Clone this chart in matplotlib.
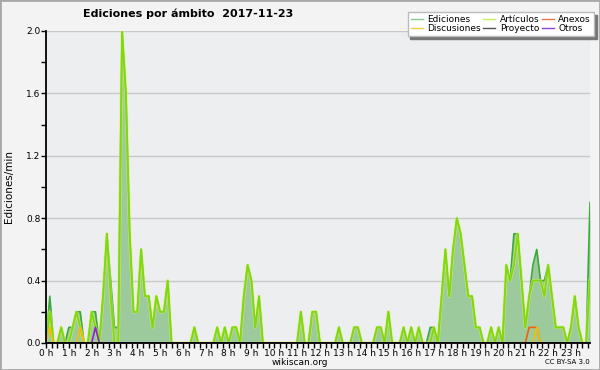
import matplotlib
matplotlib.use("Agg")
import matplotlib.pyplot as plt
from matplotlib.lines import Line2D
from matplotlib.patches import Rectangle
from matplotlib.ticker import MultipleLocator
import numpy as np

# edits per minute, one value per 10-minute slot (0:00 .. 23:50), two hours per row
ediciones = [
    0, 0.3, 0, 0, 0.1, 0,      0.1, 0.1, 0.2, 0.2, 0, 0,
    0.2, 0.2, 0, 0.3, 0.7, 0.4,  0.1, 0.1, 2.0, 1.6, 0.7, 0.2,
    0.2, 0.6, 0.3, 0.3, 0.1, 0.3,  0.2, 0.2, 0.4, 0, 0, 0,
    0, 0, 0, 0.1, 0, 0,        0, 0, 0, 0.1, 0, 0.1,
    0, 0.1, 0.1, 0, 0.3, 0.5,  0.4, 0.1, 0.3, 0, 0, 0,
    0, 0, 0, 0, 0, 0,          0, 0.2, 0, 0, 0.2, 0.2,
    0, 0, 0, 0, 0, 0.1,        0, 0, 0, 0.1, 0.1, 0,
    0, 0, 0, 0.1, 0.1, 0,      0.2, 0, 0, 0, 0.1, 0,
    0.1, 0, 0.1, 0, 0, 0.1,    0.1, 0, 0.3, 0.6, 0.3, 0.6,
    0.8, 0.7, 0.5, 0.3, 0.3, 0.1,  0.1, 0, 0, 0.1, 0, 0.1,
    0, 0.5, 0.4, 0.7, 0.7, 0.4,  0.1, 0.3, 0.5, 0.6, 0.4, 0.4,
    0.5, 0.3, 0.1, 0.1, 0.1, 0,  0.1, 0.3, 0.1, 0, 0, 0.9,
]
articulos = [
    0, 0.2, 0, 0, 0.1, 0,      0, 0.1, 0.2, 0.1, 0, 0,
    0.2, 0.1, 0, 0.3, 0.7, 0.3,  0, 0, 2.0, 1.6, 0.7, 0.2,
    0.2, 0.6, 0.3, 0.3, 0.1, 0.3,  0.2, 0.2, 0.4, 0, 0, 0,
    0, 0, 0, 0.1, 0, 0,        0, 0, 0, 0.1, 0, 0.1,
    0, 0.1, 0.1, 0, 0.3, 0.5,  0.4, 0.1, 0.3, 0, 0, 0,
    0, 0, 0, 0, 0, 0,          0, 0.2, 0, 0, 0.2, 0.2,
    0, 0, 0, 0, 0, 0.1,        0, 0, 0, 0.1, 0.1, 0,
    0, 0, 0, 0.1, 0.1, 0,      0.2, 0, 0, 0, 0.1, 0,
    0.1, 0, 0.1, 0, 0, 0,      0.1, 0, 0.3, 0.6, 0.3, 0.6,
    0.8, 0.7, 0.5, 0.3, 0.3, 0.1,  0.1, 0, 0, 0.1, 0, 0.1,
    0, 0.5, 0.4, 0.5, 0.7, 0.4,  0.1, 0.3, 0.4, 0.4, 0.4, 0.3,
    0.5, 0.3, 0.1, 0.1, 0.1, 0,  0.1, 0.3, 0.1, 0, 0, 0.4,
]
anexos = [
    0, 0, 0, 0, 0, 0,  0, 0, 0, 0, 0, 0,
    0, 0, 0, 0, 0, 0,  0, 0, 0, 0, 0, 0,
    0, 0, 0, 0, 0, 0,  0, 0, 0, 0, 0, 0,
    0, 0, 0, 0, 0, 0,  0, 0, 0, 0, 0, 0,
    0, 0, 0, 0, 0, 0,  0, 0, 0, 0, 0, 0,
    0, 0, 0, 0, 0, 0,  0, 0, 0, 0, 0, 0,
    0, 0, 0, 0, 0, 0,  0, 0, 0, 0, 0, 0,
    0, 0, 0, 0, 0, 0,  0, 0, 0, 0, 0, 0,
    0, 0, 0, 0, 0, 0,  0, 0, 0, 0, 0, 0,
    0, 0, 0, 0, 0, 0,  0, 0, 0, 0, 0, 0,
    0, 0, 0, 0, 0, 0,  0, 0.1, 0.1, 0.1, 0, 0,
    0, 0, 0, 0, 0, 0,  0, 0, 0, 0, 0, 0,
]
discusiones = [
    0, 0.1, 0, 0, 0, 0,  0, 0, 0, 0.1, 0, 0,
    0, 0, 0, 0, 0, 0,  0, 0, 0, 0, 0, 0,
    0, 0, 0, 0, 0, 0,  0, 0, 0, 0, 0, 0,
    0, 0, 0, 0, 0, 0,  0, 0, 0, 0, 0, 0,
    0, 0, 0, 0, 0, 0,  0, 0, 0, 0, 0, 0,
    0, 0, 0, 0, 0, 0,  0, 0, 0, 0, 0, 0,
    0, 0, 0, 0, 0, 0,  0, 0, 0, 0, 0, 0,
    0, 0, 0, 0, 0, 0,  0, 0, 0, 0, 0, 0,
    0, 0, 0, 0, 0, 0,  0, 0, 0, 0, 0, 0,
    0, 0, 0, 0, 0, 0,  0, 0, 0, 0, 0, 0,
    0, 0, 0, 0, 0, 0,  0, 0, 0, 0.1, 0, 0,
    0, 0, 0, 0, 0, 0,  0, 0, 0, 0, 0, 0,
]
proyecto = [0] * 144
otros = [
    0, 0, 0, 0, 0, 0,  0, 0, 0, 0, 0, 0,
    0, 0.1, 0, 0, 0, 0,  0, 0, 0, 0, 0, 0,
    0, 0, 0, 0, 0, 0,  0, 0, 0, 0, 0, 0,
    0, 0, 0, 0, 0, 0,  0, 0, 0, 0, 0, 0,
    0, 0, 0, 0, 0, 0,  0, 0, 0, 0, 0, 0,
    0, 0, 0, 0, 0, 0,  0, 0, 0, 0, 0, 0,
    0, 0, 0, 0, 0, 0,  0, 0, 0, 0, 0, 0,
    0, 0, 0, 0, 0, 0,  0, 0, 0, 0, 0, 0,
    0, 0, 0, 0, 0, 0,  0, 0, 0, 0, 0, 0,
    0, 0, 0, 0, 0, 0,  0, 0, 0, 0, 0, 0,
    0, 0, 0, 0, 0, 0,  0, 0, 0, 0, 0, 0,
    0, 0, 0, 0, 0, 0,  0, 0, 0, 0, 0, 0,
]
hour_labels = [f"{h} h" for h in range(24)]
y_ticks = [0.0, 0.4, 0.8, 1.2, 1.6, 2.0]

t = np.arange(len(ediciones)) / 6.0

fig = plt.figure(figsize=(6, 3.7), dpi=100, facecolor="#f3f3f3")
ax = fig.add_axes([46 / 600, 27 / 370, 544 / 600, 312 / 370])
ax.set_facecolor("#eceef0")

# filled total + lines per namespace
ax.fill_between(t, ediciones, 0, color="#9dca9d", lw=0, zorder=2)
ax.plot(t, ediciones, color="#3aa83a", lw=1.2, zorder=3)
ax.plot(t, articulos, color="#d8f060", lw=2.4, alpha=0.6, zorder=3)
ax.plot(t, articulos, color="#80d810", lw=1.3, zorder=4)
ax.plot(t, proyecto, color="#555555", lw=1.2, zorder=4)
ax.plot(t, anexos, color="#f06010", lw=1.2, zorder=4)
ax.plot(t, discusiones, color="#f0c000", lw=1.2, zorder=4)
ax.plot(t, otros, color="#9020d0", lw=1.2, zorder=4)

ax.set_xlim(0, t[-1])
ax.set_ylim(0, 2.0)
ax.set_xticks(range(24))
ax.set_xticklabels(hour_labels)
ax.xaxis.set_minor_locator(MultipleLocator(0.25))
ax.set_yticks(y_ticks)
ax.set_yticklabels([f"{v:.1f}" for v in y_ticks])
ax.yaxis.set_minor_locator(MultipleLocator(0.2))
ax.tick_params(which="both", direction="out", length=3.5, width=1, color="black",
               labelsize=6.5, pad=0.5)
ax.yaxis.grid(True, which="major", color="#c8c8c8", lw=1, zorder=1)
ax.set_axisbelow(True)
for side in ("top", "right"):
    ax.spines[side].set_visible(False)
for side in ("left", "bottom"):
    ax.spines[side].set_linewidth(1.3)
    ax.spines[side].set_zorder(6)

fig.text(188 / 600, 1 - 14 / 370, "Ediciones por ámbito  2017-11-23",
         ha="center", va="center", fontsize=8, fontweight="bold")
fig.text(9 / 600, 1 - 187 / 370, "Ediciones/min", rotation=90,
         ha="center", va="center", fontsize=7.5)
fig.text(300 / 600, 1 - 362.5 / 370, "wikiscan.org", ha="center", va="center", fontsize=6.5)
fig.text(590 / 600, 1 - 362.5 / 370, "CC BY-SA 3.0", ha="right", va="center", fontsize=5)

handles = [
    Line2D([], [], color="#88cc88", lw=1),
    Line2D([], [], color="#eecc44", lw=1),
    Line2D([], [], color="#ccee55", lw=1),
    Line2D([], [], color="#555555", lw=1),
    Line2D([], [], color="#ee7744", lw=1),
    Line2D([], [], color="#8844dd", lw=1),
]
names = ["Ediciones", "Discusiones", "Artículos", "Proyecto", "Anexos", "Otros"]
leg = fig.legend(handles, names, ncol=3, loc="upper right",
                 bbox_to_anchor=(594 / 600, 1 - 12 / 370), borderaxespad=0,
                 fontsize=6.5, frameon=True, fancybox=False, framealpha=1,
                 facecolor="white", edgecolor="#bbbbbb",
                 shadow={"color": "#777777", "alpha": 1},
                 handlelength=1.3, handletextpad=0.5, columnspacing=0.3,
                 labelspacing=0.0, borderpad=0.35)

fig.patches.append(Rectangle((0, 0), 1, 1, transform=fig.transFigure,
                             fill=False, edgecolor="#a8a8a8", lw=2))

fig.savefig("out.png", dpi=100, facecolor=fig.get_facecolor())
